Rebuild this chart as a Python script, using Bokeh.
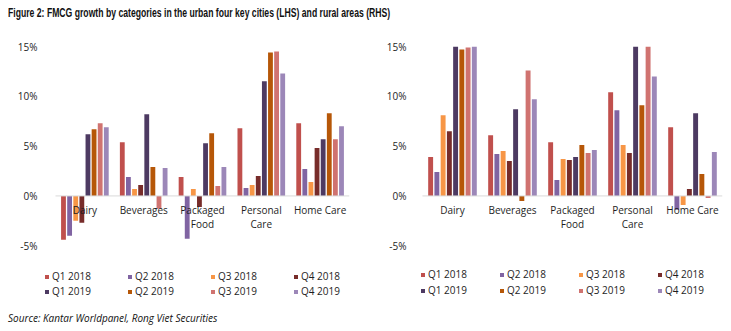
from bokeh.plotting import figure
from bokeh.models import (ColumnDataSource, Legend, LegendItem, Div,
                          PrintfTickFormatter, FixedTicker)
from bokeh.layouts import row, column
from bokeh.transform import dodge
from bokeh.embed import file_html
from bokeh.resources import INLINE
from bokeh.core.properties import value

categories = ["Dairy", "Beverages", "Packaged\nFood", "Personal\nCare", "Home Care"]
series = ["Q1 2018", "Q2 2018", "Q3 2018", "Q4 2018",
          "Q1 2019", "Q2 2019", "Q3 2019", "Q4 2019"]
colors = ["#C0504D", "#8064A2", "#F79646", "#772C2A",
          "#4D3A62", "#B65708", "#D07370", "#9C87B8"]
y_ticks = [-5, 0, 5, 10, 15]
title_text = "Figure 2: FMCG growth by categories in the urban four key cities (LHS) and rural areas (RHS)"
source_text = "Source: Kantar Worldpanel, Rong Viet Securities"

# Urban four key cities (LHS), % growth
urban_q1_2018 = [-4.4, 5.4, 1.9, 6.8, 7.3]
urban_q2_2018 = [-4.0, 1.9, -4.3, 0.8, 2.7]
urban_q3_2018 = [-2.5, 0.7, 0.7, 1.1, 1.4]
urban_q4_2018 = [-2.7, 1.1, -1.1, 2.0, 4.8]
urban_q1_2019 = [6.2, 8.2, 5.3, 11.5, 5.7]
urban_q2_2019 = [6.7, 2.9, 6.3, 14.4, 8.3]
urban_q3_2019 = [7.3, -1.3, 1.0, 14.5, 5.7]
urban_q4_2019 = [6.9, 2.8, 2.9, 12.3, 7.0]

# Rural areas (RHS), % growth
rural_q1_2018 = [3.9, 6.1, 5.4, 10.4, 6.9]
rural_q2_2018 = [2.4, 4.2, 1.6, 8.6, -1.4]
rural_q3_2018 = [8.1, 4.5, 3.7, 5.1, -0.9]
rural_q4_2018 = [6.5, 3.5, 3.6, 4.3, 0.7]
rural_q1_2019 = [15.0, 8.7, 3.9, 15.0, 8.3]
rural_q2_2019 = [14.7, -0.5, 5.1, 9.1, 2.2]
rural_q3_2019 = [14.9, 12.6, 4.3, 15.0, -0.2]
rural_q4_2019 = [15.0, 9.7, 4.6, 12.0, 4.4]

urban = [urban_q1_2018, urban_q2_2018, urban_q3_2018, urban_q4_2018,
         urban_q1_2019, urban_q2_2019, urban_q3_2019, urban_q4_2019]
rural = [rural_q1_2018, rural_q2_2018, rural_q3_2018, rural_q4_2018,
         rural_q1_2019, rural_q2_2019, rural_q3_2019, rural_q4_2019]

FONT = "Open Sans"
TXT = "#1e1e1e"
FIG_H = 281


def make_chart(data, width, border_left, border_right, border_top, border_bottom,
               x_start, label_standoff, leg_x, leg_y1, leg_y2, leg_spacing):
    # the frame extends below -5% so that the legend rows sit inside it
    n = len(categories)
    p = figure(width=width, height=FIG_H, output_backend="svg", toolbar_location=None,
               x_range=(x_start, n), y_range=(-11, 15), x_axis_location=None,
               min_border_left=border_left, min_border_right=border_right,
               min_border_top=border_top, min_border_bottom=border_bottom)
    p.outline_line_color = None
    p.xgrid.visible = False
    p.ygrid.visible = False
    p.background_fill_color = "white"
    p.border_fill_color = "white"

    ya = p.yaxis[0]
    ya.ticker = FixedTicker(ticks=y_ticks)
    ya.formatter = PrintfTickFormatter(format="%d%%")
    ya.axis_line_color = None
    ya.major_tick_line_color = None
    ya.minor_tick_line_color = None
    ya.major_label_standoff = label_standoff
    ya.major_label_text_font = FONT
    ya.major_label_text_font_size = "10px"
    ya.major_label_text_color = TXT

    src = {"x": [i + 0.5 for i in range(n)], "cat": categories}
    for s, vals in zip(series, data):
        src[s] = vals
    source = ColumnDataSource(src)

    stride = 0.104
    renderers = []
    for i, (s, c) in enumerate(zip(series, colors)):
        r = p.vbar(x=dodge("x", (i - 3.5) * stride), top=s, bottom=0, width=0.082,
                   source=source, fill_color=c, line_color=None)
        renderers.append(r)

    # zero baseline across the category span
    p.segment(x0=[0], x1=[n], y0=[0], y1=[0], line_color="#D9D9D9", line_width=1)

    p.text(x="x", y=0, text="cat", source=source, text_align="center",
           text_baseline="top", y_offset=7, text_font=value(FONT),
           text_font_size="10px", text_line_height=0.97, text_color=TXT)

    for row_i, ly in enumerate([leg_y1, leg_y2]):
        items = [LegendItem(label=series[k], renderers=[renderers[k]])
                 for k in range(row_i * 4, row_i * 4 + 4)]
        leg = Legend(items=items, orientation="horizontal", location=(leg_x, ly),
                     glyph_width=5, glyph_height=5, label_standoff=3,
                     label_height=13, spacing=leg_spacing, padding=0, margin=0,
                     border_line_color=None, background_fill_alpha=0,
                     label_text_font=FONT, label_text_font_size="10px",
                     label_text_color=TXT)
        p.add_layout(leg, "center")
    return p


p1 = make_chart(urban, 375, 44, 26, 21, 0, -0.187, 1, 0, 22, 7, 36)
p2 = make_chart(rural, 356, 45, 9, 20, 1, -0.033, 8, 0, 24, 8, 32)

title_div = Div(
    text=('<div style="font-family:\'Liberation Sans\';font-weight:bold;font-size:12px;'
          'color:#111;padding:6px 0 0 8px;line-height:15px;white-space:nowrap;">'
          '<span style="display:inline-block;transform:scaleX(0.72);transform-origin:0 0;">'
          + title_text + '</span></div>'),
    width=731, height=25, margin=0)
source_div = Div(
    text=('<div style="font-family:\'Open Sans\';font-style:italic;font-size:10px;'
          'color:#111;padding:5px 0 0 8px;line-height:14px;white-space:nowrap;">'
          + source_text + '</div>'),
    width=731, height=25, margin=0)

layout = column(title_div, row(p1, p2), source_div)
open("out.html", "w").write(file_html(layout, INLINE))
